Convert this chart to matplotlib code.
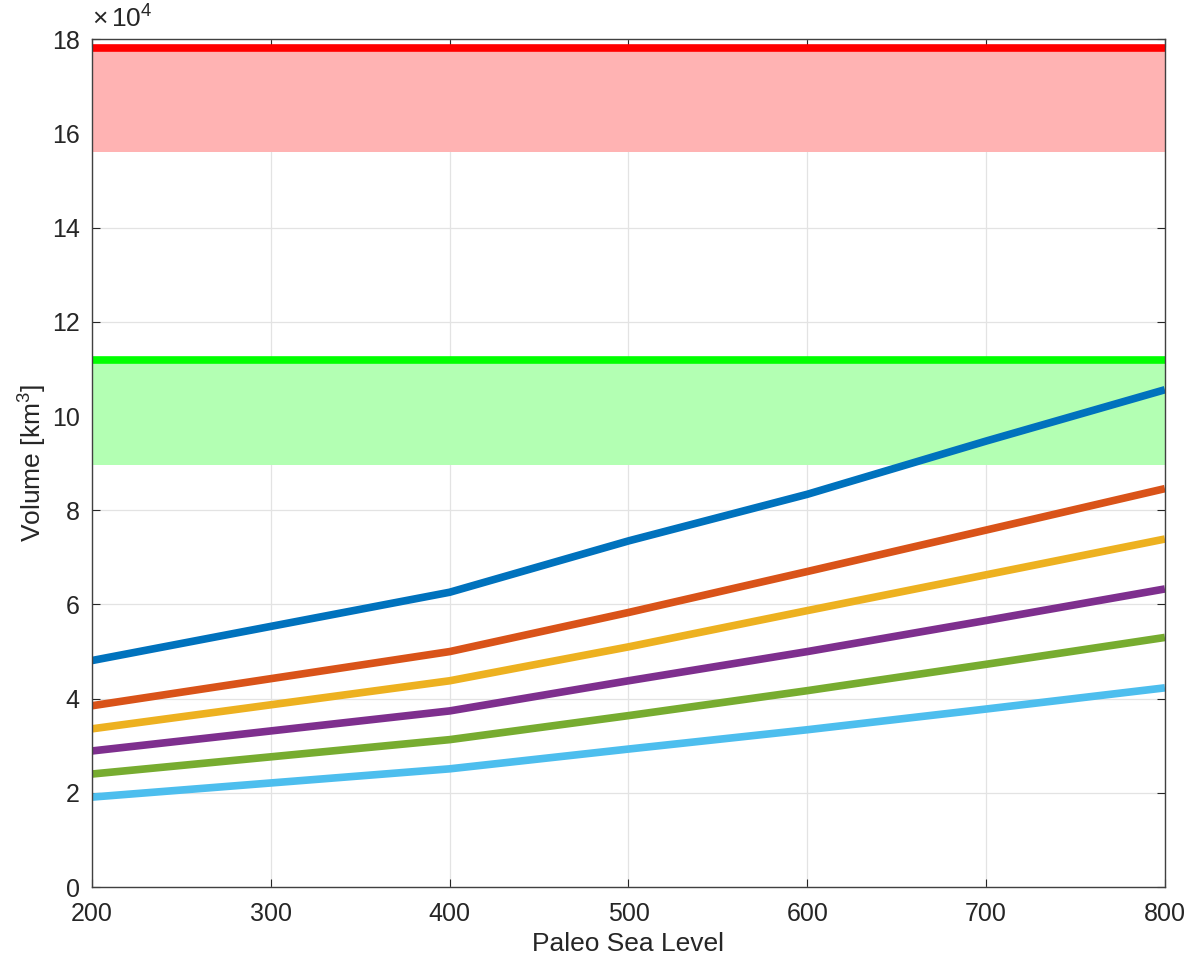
import matplotlib.pyplot as plt

plt.rcParams['font.family'] = ['Liberation Sans', 'DejaVu Sans']
plt.rcParams['mathtext.fontset'] = 'custom'
plt.rcParams['mathtext.rm'] = 'Liberation Sans'
plt.rcParams['mathtext.it'] = 'Liberation Sans'

# Paleo sea level and volumes in km^3
sea_level = [200, 400, 500, 600, 700, 800]
vol_1 = [48100, 62600, 73500, 83400, 94700, 105600]
vol_2 = [38500, 50000, 58300, 67000, 75800, 84600]
vol_3 = [33600, 43800, 51000, 58700, 66300, 73900]
vol_4 = [28900, 37400, 43800, 50000, 56600, 63300]
vol_5 = [24000, 31300, 36400, 41700, 47300, 53000]
vol_6 = [19100, 25100, 29300, 33400, 37800, 42300]
series = [vol_1, vol_2, vol_3, vol_4, vol_5, vol_6]
colors = ['#0072BD', '#D95319', '#EDB120', '#7E2F8E', '#77AC30', '#4DBEEE']

# reference bands (upper value, lower value)
red_band = [178100, 156000]
green_band = [111900, 89700]

scale = 1e4
fig = plt.figure(figsize=(11.96, 9.6), dpi=100)
ax = fig.add_axes([0.077, 0.076, 0.897, 0.883])

ax.fill_between([200, 800], red_band[1] / scale, red_band[0] / scale,
                color='#FFB3B3', linewidth=0)
ax.plot([200, 800], [red_band[0] / scale] * 2, color='#FF0000', lw=5.5,
        solid_capstyle='butt')
ax.fill_between([200, 800], green_band[1] / scale, green_band[0] / scale,
                color='#B3FFB3', linewidth=0)
ax.plot([200, 800], [green_band[0] / scale] * 2, color='#00FF00', lw=5.5,
        solid_capstyle='butt')

for vals, c in zip(series, colors):
    ax.plot(sea_level, [v / scale for v in vals], color=c, lw=5.5,
            solid_capstyle='butt')

ax.set_xlim(200, 800)
ax.set_ylim(0, 18)
ax.set_xticks(range(200, 801, 100))
ax.set_yticks(range(0, 19, 2))
ax.grid(True, color='#E3E3E3', lw=0.9)
ax.set_axisbelow(True)
ax.tick_params(direction='in', top=True, right=True, labelsize=18,
               colors='#262626', length=6)
ax.tick_params(axis='x', pad=11)
ax.tick_params(axis='y', pad=9)
for s in ax.spines.values():
    s.set_color('#404040')
    s.set_linewidth(1.0)

ax.set_xlabel('Paleo Sea Level', fontsize=19, color='#262626', labelpad=4)
ax.set_ylabel('Volume [km$^3$]', fontsize=19, color='#262626', labelpad=2)
ax.text(0.0, 1.008, r'$\times\,10^4$', transform=ax.transAxes, fontsize=19,
        color='#262626', va='bottom', ha='left')

fig.savefig('out.png', dpi=100)
